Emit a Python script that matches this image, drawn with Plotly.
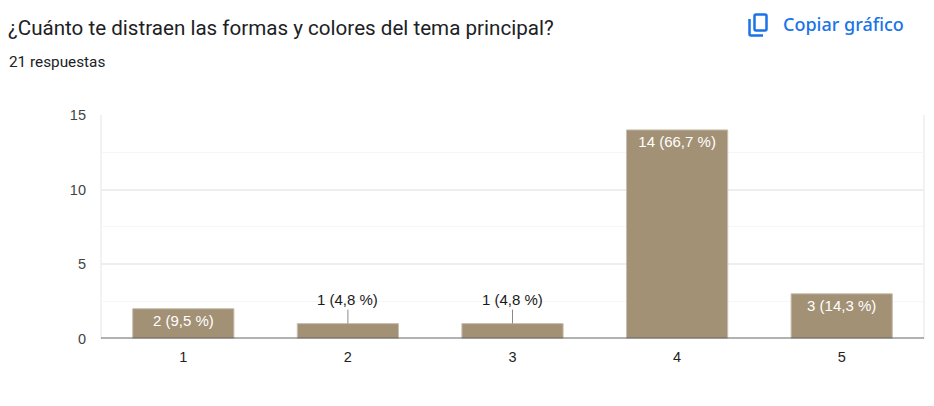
import plotly.graph_objects as go

W, H = 934, 406
categories = ["1", "2", "3", "4", "5"]
counts = [2, 1, 1, 14, 3]
percents = ["9,5", "4,8", "4,8", "66,7", "14,3"]
outside = [False, True, True, False, False]
title = "¿Cuánto te distraen las formas y colores del tema principal?"
subtitle = "21 respuestas"
copy_label = "Copiar gráfico"
y_ticks = [0, 5, 10, 15]
y_minor = [2.5, 7.5, 12.5]

labels = [f"{c} ({p} %)" for c, p in zip(counts, percents)]
PX = lambda x: x / W
PY = lambda y: 1 - y / H

fig = go.Figure(go.Bar(
    x=categories, y=counts,
    text=[("" if o else l) for l, o in zip(labels, outside)],
    textposition="inside", insidetextanchor="end", textangle=0,
    constraintext="none",
    insidetextfont=dict(family="Liberation Sans", size=15, color="#ffffff"),
    marker=dict(color="#a39176", line=dict(color="#c8bfb0", width=1)),
    width=0.615, hoverinfo="skip",
))

for i, (n, l, o) in enumerate(zip(counts, labels, outside)):
    if o:
        fig.add_annotation(x=i, y=n, xref="x", yref="y", text=l, showarrow=True,
                           arrowhead=0, arrowwidth=1, arrowcolor="#8a8a8a",
                           ax=0, ay=-14, yanchor="bottom",
                           font=dict(family="Liberation Sans", size=15, color="#1a1a1a"))

fig.add_annotation(xref="paper", yref="paper", x=PX(6), y=PY(27.5), text=title,
                   showarrow=False, xanchor="left", yanchor="middle",
                   font=dict(family="Roboto", size=20.6, color="#202124"))
fig.add_annotation(xref="paper", yref="paper", x=PX(7), y=PY(62), text=subtitle,
                   showarrow=False, xanchor="left", yanchor="middle",
                   font=dict(family="Roboto", size=15.3, color="#202124"))
fig.add_annotation(xref="paper", yref="paper", x=PX(781), y=PY(24), text=copy_label,
                   showarrow=False, xanchor="left", yanchor="middle",
                   font=dict(family="Noto Sans", size=18, weight=500, color="#1a73e8"))

# copy icon, in page pixels
def pt(x, y): return f"{PX(x)} {PY(y)}"
icon = dict(color="#1a73e8", width=2.5)
front = (f"M {pt(756, 14.5)} L {pt(765, 14.5)} Q {pt(766.5, 14.5)} {pt(766.5, 16)} "
         f"L {pt(766.5, 29)} Q {pt(766.5, 30.5)} {pt(765, 30.5)} L {pt(756, 30.5)} "
         f"Q {pt(754.5, 30.5)} {pt(754.5, 29)} L {pt(754.5, 16)} Q {pt(754.5, 14.5)} {pt(756, 14.5)} Z")
back = (f"M {pt(749.5, 19)} L {pt(749.5, 34)} Q {pt(749.5, 35.5)} {pt(751, 35.5)} L {pt(763, 35.5)}")
fig.add_shape(type="path", xref="paper", yref="paper", path=front, line=icon)
fig.add_shape(type="path", xref="paper", yref="paper", path=back, line=icon)

fig.update_layout(
    width=W, height=H, margin=dict(l=0, r=0, t=0, b=0, autoexpand=False),
    paper_bgcolor="#ffffff", plot_bgcolor="#ffffff", showlegend=False,
    xaxis=dict(domain=[PX(101), PX(924)], type="category", showgrid=False, ticks="",
               showline=False, zeroline=False, automargin=False, ticklabelstandoff=8,
               tickfont=dict(family="Liberation Sans", size=14.5, color="#222222")),
    yaxis=dict(domain=[PY(338.5), PY(115)], range=[0, 15], tickvals=y_ticks,
               showgrid=True, gridcolor="#eeeeee", gridwidth=2, zeroline=False,
               showline=False, ticks="", automargin=False, ticklabelstandoff=14,
               minor=dict(tickvals=y_minor, showgrid=True, gridcolor="#f6f6f6", gridwidth=1),
               tickfont=dict(family="Liberation Sans", size=14.5, color="#444444")),
)
# plot frame and baseline, tied to the axes
fig.add_shape(type="line", xref="x domain", yref="y domain", x0=0, x1=0, y0=0, y1=1,
              line=dict(color="#eeeeee", width=1.5), layer="below")
fig.add_shape(type="line", xref="x domain", yref="y domain", x0=1, x1=1, y0=0, y1=1,
              line=dict(color="#eeeeee", width=1.5), layer="below")
fig.add_shape(type="line", xref="x domain", yref="y", x0=0, x1=1, y0=0, y1=0,
              line=dict(color="#666666", width=2), layer="above")

fig.write_html("out.html", config=dict(displayModeBar=False),
               post_script="document.body.style.margin='0';document.body.style.overflow='hidden';")
